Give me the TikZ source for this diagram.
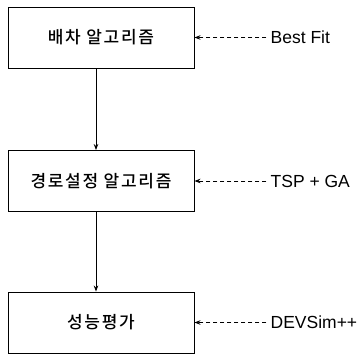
\documentclass[tikz,border=0pt]{standalone}
\usepackage{fontspec}
\setmainfont{Liberation Sans}
\newfontfamily\korfont{Noto Sans CJK KR Medium}[LetterSpace=10]
\usetikzlibrary{arrows.meta, positioning}

\begin{document}
\begin{tikzpicture}[x=1pt, y=1pt,
    stagebox/.style={draw, line width=0.9pt, minimum width=186pt, minimum height=61pt,
        inner sep=0pt, font=\korfont\fontsize{17}{19}\selectfont},
    toollabel/.style={anchor=west, inner sep=0pt, font=\fontsize{17.5}{20}\selectfont},
    flow/.style={line width=0.8pt, -{Stealth[length=6pt, width=4.5pt]}},
    hint/.style={line width=0.8pt, dash pattern=on 4pt off 3pt, shorten <=4pt,
        -{Stealth[length=6pt, width=4.5pt]}}]

            \useasboundingbox (0,0) rectangle (363,-355);

            % Các khối chính
            \node[stagebox] (alloc) at (101,-37.5) {배차 알고리즘};
            \node[stagebox] (route) at (101,-181) {경로설정 알고리즘};
            \node[stagebox] (perf) at (101,-322.5) {성능평가};

            % Nhãn công cụ
            \node[toollabel, right=76pt of alloc] (bestfit) {Best Fit};
            \node[toollabel, right=76pt of route] (tspga) {TSP + GA};
            \node[toollabel, right=76pt of perf] (devsim) {DEVSim++};

            % Mũi tên dòng chảy
            \draw[flow] ([xshift=-5pt]alloc.south) -- ([xshift=-5pt]route.north);
            \draw[flow] ([xshift=-5pt]route.south) -- ([xshift=-5pt]perf.north);

            % Mũi tên nét đứt
            \draw[hint] (bestfit.west) -- (alloc.east);
            \draw[hint] (tspga.west) -- (route.east);
            \draw[hint] (devsim.west) -- (perf.east);

\end{tikzpicture}
\end{document}
